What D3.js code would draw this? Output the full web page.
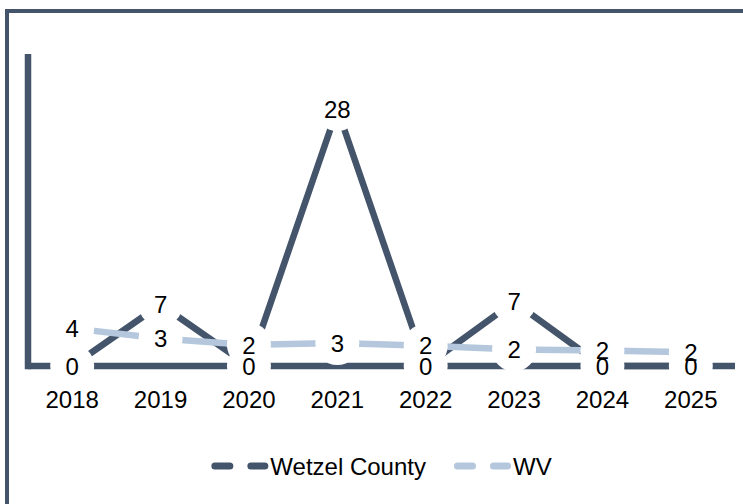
<!DOCTYPE html>
<html>
<head>
<meta charset="utf-8">
<script src="https://cdn.jsdelivr.net/npm/d3@7"></script>
<style>
  html, body { margin: 0; padding: 0; background: #fff; }
  svg { display: block; font-family: "Liberation Sans", Arial, sans-serif; }
</style>
</head>
<body>
<div id="chart"></div>
<script>
// values
var years = ["2018", "2019", "2020", "2021", "2022", "2023", "2024", "2025"];
var wetzel = [0, 6.7, 0, 28, 0, 7, 0, 0];
var wv = [4.1, 3.0, 2.3, 2.5, 2.2, 1.8, 1.7, 1.5];
var seriesNames = ["Wetzel County", "WV"];
var seriesColors = ["#44546a", "#b4c7dc"];

(function () {
  var W = 743, H = 504;
  var d3 = window.d3;
  var svg = d3.select("#chart").append("svg").attr("width", W).attr("height", H);
  var dark = "#44546a";

  // chart frame (runs off the right and bottom edge)
  svg.append("rect").attr("x", 7).attr("y", 11).attr("width", 800).attr("height", 600)
    .attr("fill", "none").attr("stroke", dark).attr("stroke-width", 4);

  var x = d3.scaleBand().domain(years).range([28, 735]).paddingInner(0).paddingOuter(0);
  var y = d3.scaleLinear().domain([0, 34]).range([366, 54]);
  function cx(d) { return x(d) + x.bandwidth() / 2; }

  var g = svg.append("g");

  // axes: bare lines, no ticks
  g.append("line").attr("x1", x.range()[0]).attr("x2", x.range()[1]).attr("y1", y(0)).attr("y2", y(0))
    .attr("stroke", dark).attr("stroke-width", 6.5);
  g.append("line").attr("x1", x.range()[0]).attr("x2", x.range()[0]).attr("y1", y(0) + 3.25).attr("y2", y.range()[1])
    .attr("stroke", dark).attr("stroke-width", 6.5);

  g.selectAll("text.tick").data(years).enter().append("text").attr("class", "tick")
    .attr("x", cx).attr("y", y(0) + 42).attr("text-anchor", "middle")
    .attr("font-size", 24).attr("fill", "#000").text(function (d) { return d; });

  var series = [wetzel, wv];
  var line = d3.line().x(function (d, i) { return cx(years[i]); }).y(function (d) { return y(d); });

  series.forEach(function (vals, si) {
    g.append("path").attr("d", line(vals)).attr("fill", "none")
      .attr("stroke", seriesColors[si]).attr("stroke-width", 6.5)
      .attr("stroke-linejoin", "round");
  });

  // data labels: white round backgrounds first, then the numbers
  var labels = [];
  series.forEach(function (vals, si) {
    vals.forEach(function (v, i) { labels.push({ x: cx(years[i]), y: y(v), t: d3.format(".0f")(v) }); });
  });
  g.selectAll("circle.lb").data(labels).enter().append("circle").attr("class", "lb")
    .attr("cx", function (d) { return d.x; }).attr("cy", function (d) { return d.y; })
    .attr("r", 22).attr("fill", "#fff");
  g.selectAll("text.lb").data(labels).enter().append("text").attr("class", "lb")
    .attr("x", function (d) { return d.x; }).attr("y", function (d) { return d.y; })
    .attr("dy", "0.36em").attr("text-anchor", "middle").attr("font-size", 24).attr("fill", "#000")
    .text(function (d) { return d.t; });

  // legend, centred under the plot
  var leg = svg.append("g");
  var symW = 57, gapAfter = 28, cursor = 0;
  seriesNames.forEach(function (name, si) {
    var it = leg.append("g").attr("transform", "translate(" + cursor + ",0)");
    it.append("path").attr("d", "M3.5,0H" + (symW - 3.5))
      .attr("stroke", seriesColors[si]).attr("stroke-width", 7).attr("stroke-linecap", "round")
      .attr("stroke-dasharray", "15 21");
    var t = it.append("text").attr("x", symW + 2).attr("y", 0).attr("dy", "0.36em")
      .attr("font-size", 24).attr("fill", "#000").text(name);
    cursor += symW + 2 + t.node().getComputedTextLength() + gapAfter;
  });
  var total = cursor - gapAfter;
  var mid = (x.range()[0] + x.range()[1]) / 2;
  leg.attr("transform", "translate(" + (mid - total / 2) + ",466)");
})();
</script>
</body>
</html>
